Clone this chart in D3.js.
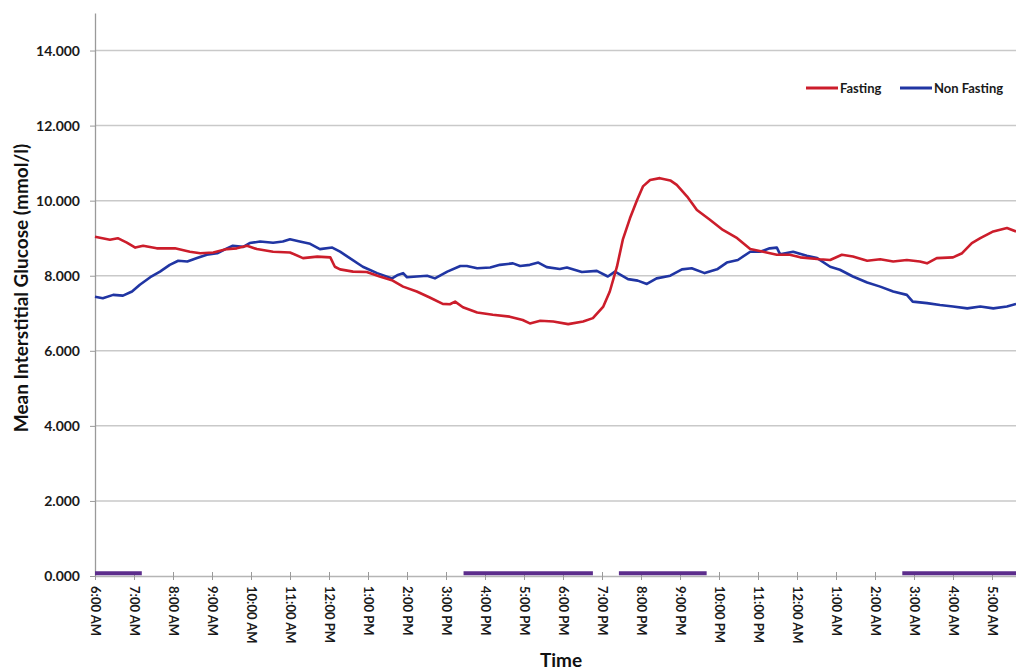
<!DOCTYPE html>
<html>
<head>
<meta charset="utf-8">
<script src="https://cdn.jsdelivr.net/npm/d3@7"></script>
<style>
  body { margin: 0; background: #fff; }
  svg { display: block; font-family: Lato, "Open Sans", sans-serif; }
</style>
</head>
<body>
<svg id="chart" width="1016" height="670"></svg>
<script>
// Hour labels, one per tick, starting at 6:00 AM
const hourLabels = [
  "6:00 AM", "7:00 AM", "8:00 AM", "9:00 AM", "10:00 AM", "11:00 AM",
  "12:00 PM", "1:00 PM", "2:00 PM", "3:00 PM", "4:00 PM", "5:00 PM",
  "6:00 PM", "7:00 PM", "8:00 PM", "9:00 PM", "10:00 PM", "11:00 PM",
  "12:00 AM", "1:00 AM", "2:00 AM", "3:00 AM", "4:00 AM", "5:00 AM"
];
const yTicks = [0, 2, 4, 6, 8, 10, 12, 14];

// Minutes after 6:00 AM, and mean glucose (mmol/l)
const fastingMinutes = [
  0, 23, 35, 49, 62, 74, 95, 123, 146, 162, 182, 203, 218, 234, 249, 274,
  300, 320, 342, 362, 369, 377, 397, 418, 438, 458, 474, 495, 515, 535, 546,
  554, 566, 588, 612, 638, 658, 669, 685, 705, 728, 751, 766, 782, 792, 803,
  812, 823, 834, 843, 854, 869, 885, 895, 911, 926, 946, 966, 988, 1008, 1028,
  1049, 1069, 1085, 1115, 1131, 1149, 1166, 1188, 1208, 1228, 1249, 1269,
  1280, 1295, 1320, 1334, 1349, 1362, 1382, 1403, 1417
];
const fastingValues = [
  9.04, 8.96, 9.00, 8.88, 8.75, 8.80, 8.73, 8.73, 8.64, 8.60, 8.62, 8.71,
  8.73, 8.80, 8.71, 8.64, 8.62, 8.47, 8.51, 8.49, 8.24, 8.17, 8.11, 8.10,
  7.98, 7.87, 7.71, 7.58, 7.42, 7.25, 7.24, 7.31, 7.16, 7.02, 6.96, 6.91,
  6.82, 6.73, 6.80, 6.78, 6.71, 6.78, 6.87, 7.18, 7.58, 8.24, 8.96, 9.53,
  10.02, 10.38, 10.55, 10.60, 10.54, 10.42, 10.11, 9.75, 9.49, 9.22, 9.00,
  8.71, 8.64, 8.56, 8.56, 8.49, 8.44, 8.42, 8.56, 8.51, 8.40, 8.44, 8.38,
  8.42, 8.38, 8.33, 8.47, 8.49, 8.60, 8.87, 9.00, 9.18, 9.27, 9.18
];

const nonFastingMinutes = [
  0, 12, 28, 43, 57, 69, 85, 100, 115, 128, 142, 157, 172, 188, 203, 212,
  228, 238, 254, 274, 289, 300, 315, 331, 346, 365, 377, 392, 412, 434, 457,
  466, 474, 480, 495, 511, 523, 542, 562, 572, 588, 608, 623, 643, 654, 669,
  682, 695, 715, 726, 749, 772, 789, 800, 820, 835, 849, 864, 885, 903, 918,
  938, 957, 972, 989, 1008, 1023, 1038, 1049, 1054, 1074, 1095, 1111, 1131,
  1146, 1166, 1188, 1208, 1228, 1249, 1258, 1280, 1300, 1320, 1342, 1362,
  1382, 1403, 1417
];
const nonFastingValues = [
  7.44, 7.40, 7.49, 7.47, 7.58, 7.76, 7.96, 8.11, 8.29, 8.40, 8.38, 8.47,
  8.56, 8.60, 8.73, 8.80, 8.77, 8.87, 8.91, 8.88, 8.91, 8.97, 8.91, 8.85,
  8.71, 8.75, 8.64, 8.47, 8.24, 8.07, 7.93, 8.02, 8.07, 7.96, 7.98, 8.00,
  7.93, 8.11, 8.26, 8.26, 8.20, 8.22, 8.29, 8.33, 8.26, 8.29, 8.35, 8.23,
  8.18, 8.22, 8.10, 8.13, 7.98, 8.11, 7.91, 7.87, 7.78, 7.93, 8.00, 8.17,
  8.20, 8.07, 8.17, 8.35, 8.42, 8.64, 8.64, 8.73, 8.75, 8.57, 8.64, 8.53,
  8.47, 8.24, 8.16, 7.98, 7.82, 7.71, 7.58, 7.49, 7.31, 7.27, 7.22, 7.18,
  7.13, 7.18, 7.13, 7.18, 7.25
];

// Fasting periods marked along the baseline (minutes after 6:00 AM)
const fastPeriodStart = [0, 567, 806, 1242];
const fastPeriodEnd = [72, 766, 941, 1440];
const fastPeriodLevel = 0.07;

const svg = d3.select("#chart");
const plotLeft = 95, plotTop = 13, plotBottom = 576;

const x = d3.scaleLinear().domain([0, 1440]).range([plotLeft, plotLeft + 24 * 39]);
const y = d3.scaleLinear().domain([0, 15]).range([plotBottom, plotTop]);

// Horizontal gridlines
svg.append("g")
  .selectAll("line")
  .data(yTicks.filter(d => d > 0))
  .join("line")
  .attr("x1", x(0)).attr("x2", x(1440))
  .attr("y1", d => y(d)).attr("y2", d => y(d))
  .attr("stroke", "#c9c9c9").attr("stroke-width", 1.5);

// Y axis
const yAxis = svg.append("g")
  .attr("transform", `translate(${plotLeft},0)`)
  .call(d3.axisLeft(y).tickValues(yTicks).tickFormat(d3.format(".3f"))
    .tickSize(5).tickSizeOuter(0).tickPadding(10));
yAxis.select(".domain").attr("stroke", "#9a9a9a").attr("stroke-width", 1.3);
yAxis.selectAll(".tick line").attr("stroke", "#9a9a9a");
yAxis.selectAll(".tick text")
  .attr("font-family", "Lato, sans-serif")
  .attr("font-size", 14).attr("font-weight", "bold").attr("fill", "#1a1a1a");

// X axis
const xAxis = svg.append("g")
  .attr("transform", `translate(0,${plotBottom})`)
  .call(d3.axisBottom(x).tickValues(d3.range(0, 1440, 60))
    .tickFormat((d, i) => hourLabels[i]).tickSizeInner(4).tickSizeOuter(0));
xAxis.select(".domain").attr("stroke", "#b5b5b5").attr("stroke-width", 1.5);
xAxis.selectAll(".tick line").attr("y1", -4).attr("stroke", "#9a9a9a");
xAxis.selectAll(".tick text")
  .attr("font-family", "Lato, sans-serif")
  .attr("font-size", 13).attr("font-weight", "bold").attr("fill", "#1a1a1a")
  .attr("text-anchor", "start")
  .attr("transform", "rotate(90)")
  .attr("x", 10).attr("y", 0).attr("dy", "0.35em");

// Baseline fasting-period markers
const periodLine = d3.line().x(d => x(d[0])).y(d => y(d[1]));
svg.append("g")
  .selectAll("path")
  .data(fastPeriodStart.map((s, i) => [[s, fastPeriodLevel], [fastPeriodEnd[i], fastPeriodLevel]]))
  .join("path")
  .attr("d", periodLine)
  .attr("fill", "none").attr("stroke", "#5c2d8c").attr("stroke-width", 4);

// Glucose series
const series = [
  { name: "Non Fasting", t: nonFastingMinutes, v: nonFastingValues, color: "#2035a3" },
  { name: "Fasting", t: fastingMinutes, v: fastingValues, color: "#cc1d2b" }
];
const glucoseLine = d3.line().x(d => x(d[0])).y(d => y(d[1]));
svg.append("g")
  .selectAll("path")
  .data(series)
  .join("path")
  .attr("d", s => glucoseLine(s.t.map((t, i) => [t, s.v[i]])))
  .attr("fill", "none")
  .attr("stroke", s => s.color)
  .attr("stroke-width", 2.6)
  .attr("stroke-linejoin", "round");

// Legend
const legendItems = [
  { name: "Fasting", color: "#cc1d2b", x0: 806 },
  { name: "Non Fasting", color: "#2035a3", x0: 900 }
];
const lg = svg.append("g").selectAll("g").data(legendItems).join("g")
  .attr("transform", d => `translate(${d.x0},88)`);
lg.append("line").attr("x1", 0).attr("x2", 32).attr("y1", 0).attr("y2", 0)
  .attr("stroke", d => d.color).attr("stroke-width", 3);
lg.append("text").attr("x", 34).attr("dy", "0.35em")
  .attr("font-size", 13).attr("font-weight", "bold").attr("fill", "#1a1a1a")
  .text(d => d.name);

// Axis titles
svg.append("text")
  .attr("transform", "translate(28,288) rotate(-90)")
  .attr("text-anchor", "middle")
  .attr("font-size", 19).attr("font-weight", "bold").attr("fill", "#111")
  .text("Mean Interstitial Glucose (mmol/l)");
svg.append("text")
  .attr("x", 561).attr("y", 667)
  .attr("text-anchor", "middle")
  .attr("font-size", 19).attr("font-weight", "bold").attr("fill", "#111")
  .text("Time");
</script>
</body>
</html>
